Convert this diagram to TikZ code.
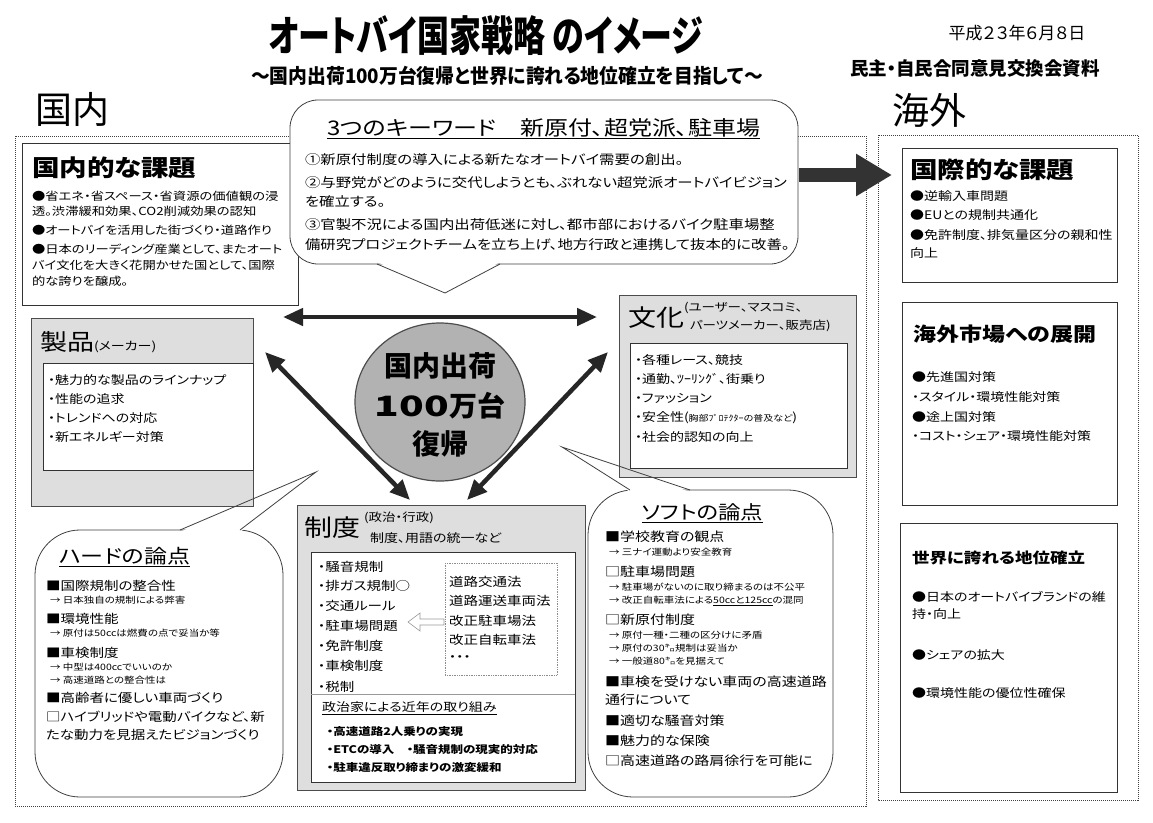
\documentclass[tikz,border=0pt]{standalone}
\usepackage{fontspec}
\setmainfont{Noto Sans CJK JP}[RawFeature=+palt]
\usepackage{graphicx}
\usetikzlibrary{arrows.meta}
\newcommand\fs[1]{\fontsize{#1}{#1}\selectfont}
\newcommand\sq[2][0.84]{\scalebox{1}[#1]{#2}}
\newcommand\tl[5]{\node[tx] (#1) at (#2,#3) {\sq{\fs{#4}#5}};}
\newcommand\ul[1]{\draw[line width=0.8pt] ([yshift=-1.5pt]#1.south west) -- ([yshift=-1.5pt]#1.south east);}
\tikzset{
 tx/.style={anchor=west,inner sep=0pt,outer sep=0pt},
 tc/.style={anchor=center,inner sep=0pt},
 frame/.style={draw=black!75,densely dotted,line width=1pt},
 box/.style={draw=black!80,line width=0.7pt,fill=white},
 gbox/.style={draw=black!70,line width=0.8pt,fill=black!13},
 bub/.style={draw=black!75,line width=0.8pt,fill=white},
 tail/.style={draw=black!75,line width=0.8pt},
 dbl/.style={line width=4.5pt,draw=black!85,arrows={Triangle[length=20pt,width=17pt]-Triangle[length=20pt,width=17pt]}},
}
\begin{document}
\begin{tikzpicture}[x=1pt,y=-1pt]
\useasboundingbox (0,0) rectangle (1153,822);
\fill[white] (0,0) rectangle (1153,822);

% header
\node[tc] (title) at (486,36) {\bfseries\fs{40}\scalebox{0.8}[1.05]{オートバイ国家戦略 のイメージ}};
\node[tc] (sub) at (507,76) {\bfseries\fs{20}\scalebox{0.94}[1]{～国内出荷100万台復帰と世界に誇れる地位確立を目指して～}};
\node[tc] (date) at (1017,33) {\fs{17}平成２３年６月８日};
\node[tc] (mtg) at (975,68) {\bfseries\fs{18.5}民主・自民合同意見交換会資料};
\node[tc] (dom) at (72,109) {\fs{37}国内};
\node[tc] (ovs) at (929,110) {\fs{37}海外};

% frames
\draw[frame] (15,136) rectangle (866,806);
\draw[frame] (878,135) rectangle (1138,800);

% bubbles (bodies)
\draw[bub,rounded corners=45pt] (35,530) rectangle (283,797);
\fill[white] (180,532) -- (316,472) -- (240,532) -- cycle;
\draw[bub,rounded corners=45pt] (588,490) rectangle (833,797);
\fill[white] (630,492) -- (562,447) -- (690,492) -- cycle;

% product box
\draw[gbox] (31,318) rectangle (253,506);
\draw[box] (43,363) rectangle (253,470);
% culture box
\draw[gbox] (619,295) rectangle (856,477);
\draw[box] (630,343) rectangle (847,468);

% tails
\draw[tail] (180,530) -- (316,472) -- (240,530);
\draw[tail] (630,490) -- (562,447) -- (690,490);

% domestic issues
\draw[box] (22,143) rectangle (298,305);

% keyword bubble
\draw[bub,rounded corners=28pt] (290,100) rectangle (798,264);
\fill[white] (377,262) -- (445,293) -- (500,262) -- cycle;
\draw[tail] (377,264) -- (445,293) -- (500,264);

% big arrow
\coordinate (ba1) at (799,175);
\coordinate (ba2) at (892,175);
\draw[line width=14pt,draw=black!80,arrows={-Triangle[length=36pt,width=40pt]}] (ba1) -- (ba2);

% double arrows
\coordinate (h1) at (283,317);
\coordinate (h2) at (597,317);
\coordinate (l1) at (265,352);
\coordinate (l2) at (410,500);
\coordinate (r1) at (608,352);
\coordinate (r2) at (467,500);
\draw[dbl] (h1) -- (h2);
\draw[dbl] (l1) -- (l2);
\draw[dbl] (r1) -- (r2);

% circle
\fill[black!30] (440,402) ellipse [x radius=85, y radius=79];
\draw[black!70,line width=1.2pt] (440,402) ellipse [x radius=85, y radius=79];
\node[tc] (c1) at (440,366) {\bfseries\fs{28}国内出荷};
\node[tc] (c2) at (440,406) {\bfseries\fs{28}\scalebox{1.45}[1]{100}万台};
\node[tc] (c3) at (440,444) {\bfseries\fs{28}復帰};

% system box
\draw[gbox] (297,505) rectangle (585,790);
\draw[box] (311,552) rectangle (575,782);
\draw[black!40,line width=0.6pt] (311,694) -- (575,694);
\draw[black!45,densely dotted,line width=0.7pt] (445,563) rectangle (557,675);
\draw[black!40,line width=0.6pt] (408,622) -- (420,613) -- (420,619) -- (444,619) -- (444,625) -- (420,625) -- (420,631) -- cycle;

% overseas boxes
\draw[box] (902,148) rectangle (1117,282);
\draw[box] (902,302) rectangle (1117,505);
\draw[box] (900,523) rectangle (1117,792);

% ---- texts ----
\tl{dt}{32}{168}{27.5}{\bfseries 国内的な課題}
\tl{d1}{32}{196}{13.3}{●省エネ・省スペース・省資源の価値観の浸}
\tl{d2}{32}{211}{13.3}{透。渋滞緩和効果、CO2削減効果の認知}
\tl{d3}{32}{230}{13.3}{●オートバイを活用した街づくり・道路作り}
\tl{d4}{32}{249}{13.3}{●日本のリーディング産業として、またオート}
\tl{d5}{32}{265}{13.3}{バイ文化を大きく花開かせた国として、国際}
\tl{d6}{32}{281}{13.3}{的な誇りを醸成。}

\tl{kt}{327}{128}{24}{3つのキーワード　新原付、超党派、駐車場}
\ul{kt}
\tl{k1}{305}{160}{15.4}{①新原付制度の導入による新たなオートバイ需要の創出。}
\tl{k2}{305}{183}{15.4}{②与野党がどのように交代しようとも、ぶれない超党派オートバイビジョン}
\tl{k3}{305}{202}{15.4}{を確立する。}
\tl{k4}{305}{225}{15.4}{③官製不況による国内出荷低迷に対し、都市部におけるバイク駐車場整}
\tl{k5}{305}{245}{15.4}{備研究プロジェクトチームを立ち上げ、地方行政と連携して抜本的に改善。}

\tl{st}{40}{342}{27}{製品{\fs{14}(メーカー)}}
\tl{s1}{48}{380}{14}{・魅力的な製品のラインナップ}
\tl{s2}{48}{399}{14}{・性能の追求}
\tl{s3}{48}{418}{14}{・トレンドへの対応}
\tl{s4}{48}{437}{14}{・新エネルギー対策}

\tl{bt}{628}{318}{28}{文化}
\tl{bt2}{684}{308}{13.5}{(ユーザー、マスコミ、}
\tl{bt3}{690}{326}{13.5}{パーツメーカー、販売店)}
\tl{b1}{635}{360}{14}{・各種レース、競技}
\tl{b2}{635}{379}{14}{・通勤、ﾂｰﾘﾝｸﾞ、街乗り}
\tl{b3}{635}{398}{14}{・ファッション}
\tl{b4}{635}{418}{14}{・安全性({\fs{10}胸部ﾌﾟﾛﾃｸﾀｰの普及など})}
\tl{b5}{635}{437}{14}{・社会的認知の向上}

\tl{yt}{304}{528}{28}{制度}
\tl{yt2}{364}{518}{13.5}{(政治・行政)}
\tl{yt3}{370}{538}{14}{制度、用語の統一など}
\tl{y1}{318}{567}{14.5}{・騒音規制}
\tl{y2}{318}{586}{14.5}{・排ガス規制○}
\tl{y3}{318}{606}{14.5}{・交通ルール}
\tl{y4}{318}{626}{14.5}{・駐車場問題}
\tl{y5}{318}{646}{14.5}{・免許制度}
\tl{y6}{318}{666}{14.5}{・車検制度}
\tl{y7}{318}{687}{14.5}{・税制}
\tl{z1}{449}{582}{14.5}{道路交通法}
\tl{z2}{449}{601}{14.5}{道路運送車両法}
\tl{z3}{449}{621}{14.5}{改正駐車場法}
\tl{z4}{449}{640}{14.5}{改正自転車法}
\tl{z5}{449}{659}{14.5}{・・・}
\tl{pt}{322}{707}{14}{政治家による近年の取り組み}
\ul{pt}
\tl{p1}{327}{732}{12.5}{\bfseries ・高速道路2人乗りの実現}
\tl{p2}{327}{750}{12.5}{\bfseries ・ETCの導入　・騒音規制の現実的対応}
\tl{p3}{327}{768}{12.5}{\bfseries ・駐車違反取り締まりの激変緩和}

\tl{ht}{59}{556}{23}{ハードの論点}
\ul{ht}
\tl{h01}{46}{586}{14.5}{■国際規制の整合性}
\tl{h02}{50}{600}{10.5}{→ 日本独自の規制による弊害}
\tl{h03}{46}{619}{14.5}{■環境性能}
\tl{h04}{50}{633}{10.5}{→ 原付は50ccは燃費の点で妥当か等}
\tl{h05}{46}{653}{14.5}{■車検制度}
\tl{h06}{50}{667}{10.5}{→ 中型は400ccでいいのか}
\tl{h07}{50}{680}{10.5}{→ 高速道路との整合性は}
\tl{h08}{46}{698}{14.5}{■高齢者に優しい車両づくり}
\tl{h09}{46}{717}{14.5}{□ハイブリッドや電動バイクなど、新}
\tl{h10}{46}{735}{14.5}{たな動力を見据えたビジョンづくり}

\tl{sft}{642}{512}{22.5}{ソフトの論点}
\ul{sft}
\tl{f01}{605}{537}{15}{■学校教育の観点}
\tl{f02}{609}{552}{10.5}{→ 三ナイ運動より安全教育}
\tl{f03}{605}{572}{15}{□駐車場問題}
\tl{f04}{609}{587}{10.5}{→ 駐車場がないのに取り締まるのは不公平}
\tl{f05}{609}{601}{10.5}{→ 改正自転車法による\underline{50ccと125cc}の混同}
\tl{f06}{605}{620}{15}{□新原付制度}
\tl{f07}{609}{635}{10.5}{→ 原付一種・二種の区分けに矛盾}
\tl{f08}{609}{648}{10.5}{→ 原付の30㌔規制は妥当か}
\tl{f09}{609}{661}{10.5}{→ 一般道80㌔を見据えて}
\tl{f10}{605}{682}{15}{■車検を受けない車両の高速道路}
\tl{f11}{605}{700}{15}{通行について}
\tl{f12}{605}{721}{15}{■適切な騒音対策}
\tl{f13}{605}{741}{15}{■魅力的な保険}
\tl{f14}{605}{761}{15}{□高速道路の路肩徐行を可能に}

\tl{it}{910}{170}{27.5}{\bfseries 国際的な課題}
\tl{i1}{910}{196}{14}{●逆輸入車問題}
\tl{i2}{910}{215}{14}{●EUとの規制共通化}
\tl{i3}{910}{235}{14}{●免許制度、排気量区分の親和性}
\tl{i4}{910}{253}{14}{向上}

\tl{mt}{913}{334}{23}{\bfseries 海外市場への展開}
\tl{m1}{912}{377}{14}{●先進国対策}
\tl{m2}{912}{397}{14}{・スタイル・環境性能対策}
\tl{m3}{912}{417}{14}{●途上国対策}
\tl{m4}{912}{436}{14}{・コスト・シェア・環境性能対策}

\tl{wt}{912}{558}{17.5}{\bfseries 世界に誇れる地位確立}
\tl{w1}{912}{597}{14}{●日本のオートバイブランドの維}
\tl{w2}{912}{614}{14}{持・向上}
\tl{w3}{912}{655}{14}{●シェアの拡大}
\tl{w4}{912}{693}{14}{●環境性能の優位性確保}
\end{tikzpicture}
\end{document}
